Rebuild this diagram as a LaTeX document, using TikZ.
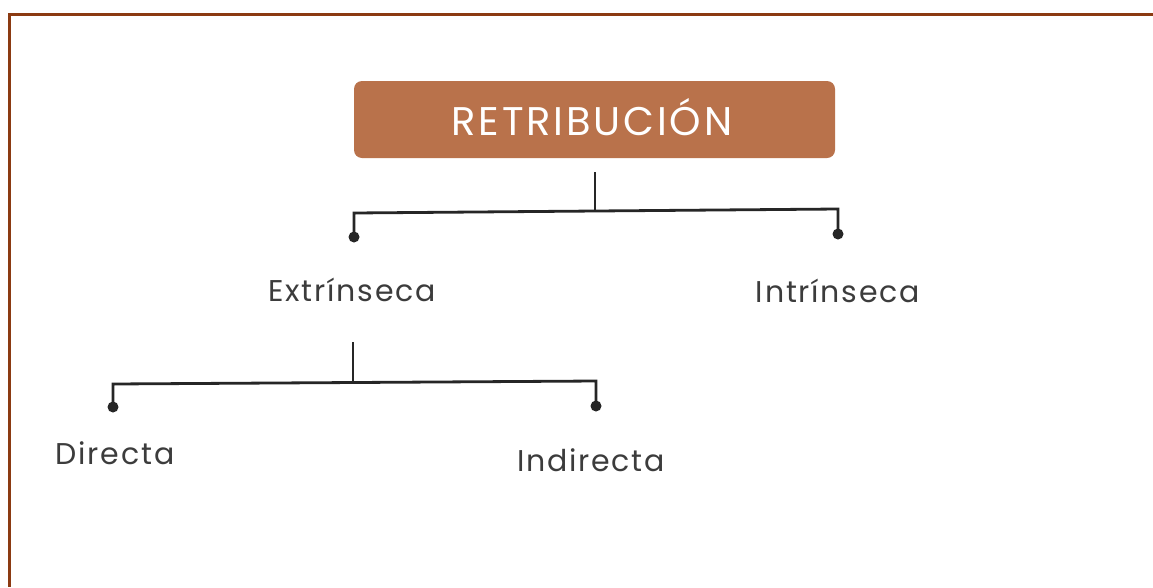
\documentclass[tikz,border=0pt]{standalone}
\usepackage{fontspec}
\newfontfamily\labelfont[LetterSpace=6]{Poppins}
\newfontfamily\titlefont[LetterSpace=7]{Poppins}
\definecolor{framebrown}{HTML}{8B3A12}
\definecolor{boxbrown}{HTML}{B9724B}
\definecolor{linegray}{HTML}{262626}
\definecolor{textgray}{HTML}{3C3C3C}
\tikzset{
  frameline/.style={draw=framebrown, line width=3pt},
  titlebox/.style={fill=boxbrown, rounded corners=8pt, minimum width=481pt, minimum height=77pt, inner sep=0pt},
  titletext/.style={text=white, inner sep=0pt, anchor=base, font=\titlefont\fontsize{40}{40}\selectfont},
  lbl/.style={text=textgray, inner sep=0pt, anchor=base, font=\labelfont\fontsize{30}{30}\selectfont},
  conn/.style={draw=linegray, line width=2.8pt},
  dotnode/.style={circle, fill=linegray, minimum size=11pt, inner sep=0pt}
}
\begin{document}
\begin{tikzpicture}[x=1pt,y=-1pt]
\useasboundingbox (0,0) rectangle (1153,587);
\fill[white] (0,0) rectangle (1153,587);
\draw[frameline] (1153,14) -- (9,14) -- (9,587);
\node[titlebox] (t) at (594.5,119.5) {};
\node[titletext] (tt) at (592,135) {RETRIBUCIÓN};
% level 1
\coordinate (s1) at (595,172);
\coordinate (m1) at (595,211);
\coordinate (l1) at (354,213);
\coordinate (r1) at (838,209);
\node[dotnode] (d1) at (354,237) {};
\node[dotnode] (d2) at (838,234) {};
\draw[conn] (s1) -- (m1);
\draw[conn] (d1.center) -- (l1) -- (r1) -- (d2.center);
\node[lbl] (ext) at (352,301) {Extrínseca};
\node[lbl] (int) at (838,302) {Intrínseca};
% level 2
\coordinate (s2) at (353,342);
\coordinate (m2) at (353,383);
\coordinate (l2) at (113,384);
\coordinate (r2) at (596,381);
\node[dotnode] (d3) at (113,407) {};
\node[dotnode] (d4) at (596,406) {};
\draw[conn] (s2) -- (m2);
\draw[conn] (d3.center) -- (l2) -- (r2) -- (d4.center);
\node[lbl] (dir) at (115,464) {Directa};
\node[lbl] (ind) at (591,471) {Indirecta};
\end{tikzpicture}
\end{document}
